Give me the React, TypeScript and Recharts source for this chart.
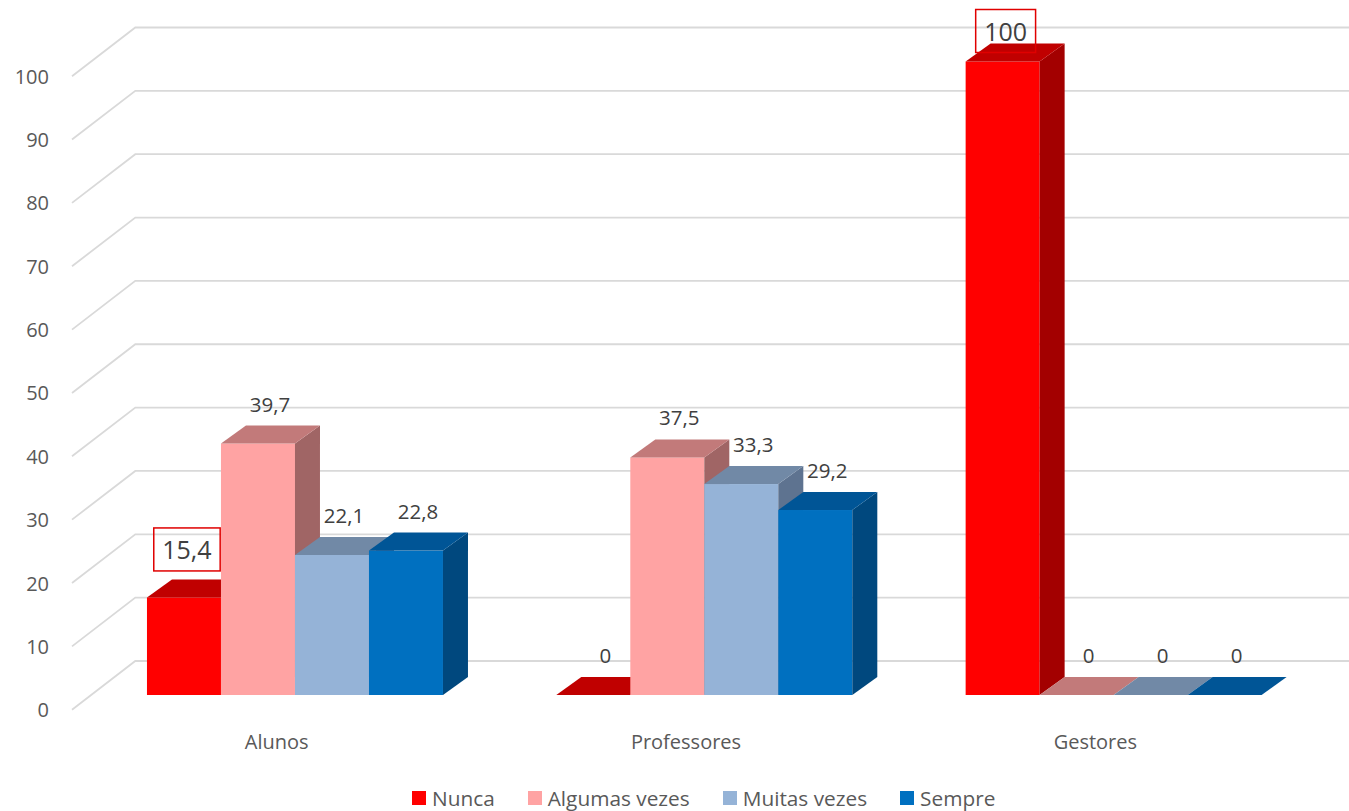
import { BarChart, Bar, XAxis, YAxis, CartesianGrid, Legend, LabelList } from 'recharts';

const categorias = ['Alunos', 'Professores', 'Gestores'];
const nunca = [15.4, 0, 100];
const algumasVezes = [39.7, 37.5, 0];
const muitasVezes = [22.1, 33.3, 0];
const sempre = [22.8, 29.2, 0];
const yTicks = [0, 10, 20, 30, 40, 50, 60, 70, 80, 90, 100];
// rótulos com caixa vermelha (série "Nunca")
const nuncaDestaque = [true, false, true];

const series = [
  { key: 'nunca', name: 'Nunca', front: '#FF0000', top: '#C00000', side: '#A30000' },
  { key: 'algumas', name: 'Algumas vezes', front: '#FFA3A3', top: '#C27A7A', side: '#A06565' },
  { key: 'muitas', name: 'Muitas vezes', front: '#95B3D7', top: '#7189A6', side: '#5E7390' },
  { key: 'sempre', name: 'Sempre', front: '#0070C0', top: '#005596', side: '#00487E' },
];

const data = categorias.map((categoria, i) => ({
  categoria,
  nunca: nunca[i],
  algumas: algumasVezes[i],
  muitas: muitasVezes[i],
  sempre: sempre[i],
}));

const W = 1349;
const H = 811;
const PLOT_LEFT = 91.3;
const PLOT_BOTTOM = 695;
const FONT = "'Open Sans', sans-serif";
// deslocamentos da projeção 3D
const DEPTH = { dx: 25, dy: -18 };
const FRONT = { dx: -19.3, dy: 14.7 };
const BACK = { dx: 44, dy: -34 };

const fmt = (v: number) => String(v).replace('.', ',');

const gridLine = (p: any) => {
  const y = p.y1;
  const pts = `${p.x1 + FRONT.dx},${y + FRONT.dy} ${p.x1 + BACK.dx},${y + BACK.dy} ${W},${y + BACK.dy}`;
  return <polyline key={`g-${p.index}`} points={pts} fill='none' stroke='#D9D9D9' strokeWidth={1.8} />;
};

const makeShape = (s: (typeof series)[number]) => (props: any) => {
  const { x, y, width, height } = props;
  const { dx, dy } = DEPTH;
  const topFace = `${x},${y} ${x + width},${y} ${x + width + dx},${y + dy} ${x + dx},${y + dy}`;
  const sideFace = `${x + width},${y} ${x + width + dx},${y + dy} ${x + width + dx},${y + height + dy} ${x + width},${y + height}`;
  return (
    <g>
      {height > 0 && <rect x={x} y={y} width={width} height={height} fill={s.front} />}
      {height > 0 && <polygon points={sideFace} fill={s.side} />}
      <polygon points={topFace} fill={s.top} />
    </g>
  );
};

const makeLabel = (destaque?: boolean[]) => (props: any) => {
  const vb = props.viewBox ?? props;
  const { x, y, width } = vb;
  const value = props.value;
  const text = fmt(value);
  const cx = x + width / 2;
  if (destaque && destaque[props.index]) {
    const cy = Math.max(31, y - 48);
    const bw = text.replace(',', '').length * 14.3 + (text.includes(',') ? 6.5 : 0) + 17;
    return (
      <g>
        <rect x={cx + 3 - bw / 2} y={cy - 21.5} width={bw} height={43} fill='none' stroke='#E00000' strokeWidth={1.5} />
        <text x={cx + 3} y={cy} textAnchor='middle' dominantBaseline='central' fontSize={25} fill='#404040'>
          {text}
        </text>
      </g>
    );
  }
  return (
    <text x={cx + 12} y={y - 40} textAnchor='middle' dominantBaseline='central' fontSize={20.5} fill='#404040'>
      {text}
    </text>
  );
};

const CategoryTick = (props: any) => (
  <text x={props.x + FRONT.dx} y={PLOT_BOTTOM + 46} textAnchor='middle' dominantBaseline='central' fontSize={20} fill='#595959'>
    {props.payload.value}
  </text>
);

const ValueTick = (props: any) => (
  <text x={PLOT_LEFT + FRONT.dx - 23} y={props.y + FRONT.dy} textAnchor='end' dominantBaseline='central' fontSize={20} fill='#595959'>
    {props.payload.value}
  </text>
);

const LegendContent = () => (
  <div style={{ display: 'flex', alignItems: 'center', height: 24, fontSize: 20.8, color: '#595959', fontFamily: FONT }}>
    {series.map((s) => (
      <span key={s.key} style={{ display: 'flex', alignItems: 'center', marginRight: 33, whiteSpace: 'nowrap' }}>
        <span style={{ width: 14, height: 14, background: s.front, marginRight: 6, display: 'inline-block' }} />
        {s.name}
      </span>
    ))}
  </div>
);

export default function App() {
  return (
    <div style={{ position: 'absolute', left: 0, top: 0, width: W, height: H, background: '#fff', fontFamily: FONT }}>
      <BarChart
        width={W}
        height={H}
        data={data}
        margin={{ top: 61.5, right: 29.7, left: 0, bottom: 32 }}
        barGap={0}
        barCategoryGap='13.6%'
      >
        <CartesianGrid vertical={false} horizontal={gridLine} />
        <XAxis dataKey='categoria' axisLine={false} tickLine={false} height={60} interval={0} tick={<CategoryTick />} />
        <YAxis
          domain={[0, 100]}
          ticks={yTicks}
          width={PLOT_LEFT}
          axisLine={false}
          tickLine={false}
          tick={<ValueTick />}
        />
        <Legend verticalAlign='bottom' content={<LegendContent />} wrapperStyle={{ left: 412, top: 786, width: 'auto' }} />
        {series.map((s, i) => (
          <Bar key={s.key} dataKey={s.key} name={s.name} fill={s.front} isAnimationActive={false} shape={makeShape(s)}>
            <LabelList dataKey={s.key} content={makeLabel(i === 0 ? nuncaDestaque : undefined)} />
          </Bar>
        ))}
      </BarChart>
    </div>
  );
}
